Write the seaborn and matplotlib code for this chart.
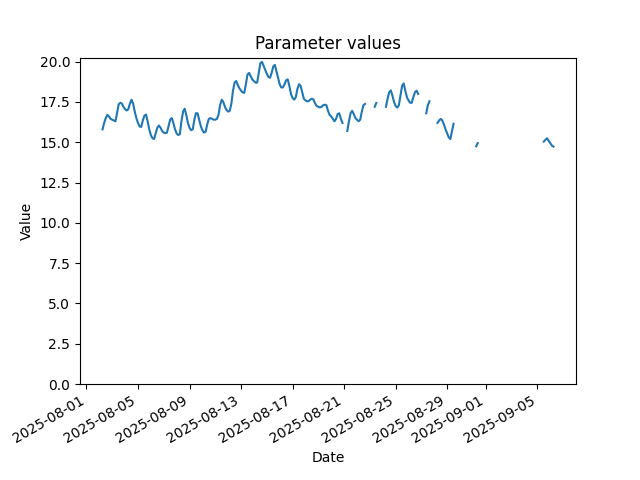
import numpy as np
import pandas as pd
import matplotlib
matplotlib.use("Agg")
import matplotlib.pyplot as plt
import seaborn as sns

nan = np.nan

# --- Data: 3-hourly readings starting 2025-08-02 06:00 (NaN = missing) ---
start_time = "2025-08-02 06:00"
step = "3h"

values = [
    15.8, 16.2, 16.5, 16.7, 16.6, 16.45,                # 08-02 (from 06h)
    16.4, 16.35, 16.3, 16.8, 17.35, 17.45, 17.4, 17.2,  # 08-03
    17.05, 16.97, 17.05, 17.4, 17.64, 17.4, 16.9, 16.5,  # 08-04
    16.2, 15.98, 15.95, 16.35, 16.65, 16.72, 16.3, 15.8,  # 08-05
    15.45, 15.25, 15.2, 15.55, 15.9, 16.04, 15.9, 15.7,  # 08-06
    15.6, 15.56, 15.6, 16.0, 16.4, 16.5, 16.2, 15.8,     # 08-07
    15.55, 15.45, 15.5, 16.3, 16.9, 17.08, 16.7, 16.2,   # 08-08
    15.9, 15.75, 15.8, 16.4, 16.8, 16.8, 16.4, 16.0,     # 08-09
    15.75, 15.6, 15.65, 16.1, 16.45, 16.5, 16.45, 16.4,  # 08-10
    16.4, 16.45, 16.7, 17.3, 17.64, 17.5, 17.2, 17.0,    # 08-11
    16.9, 16.95, 17.4, 18.2, 18.7, 18.8, 18.55, 18.35,   # 08-12
    18.2, 18.1, 18.06, 18.6, 19.2, 19.3, 19.1, 18.9,     # 08-13
    18.8, 18.7, 18.7, 19.3, 19.9, 19.99, 19.75, 19.5,    # 08-14
    19.25, 19.05, 19.0, 19.3, 19.7, 19.8, 19.4, 19.0,    # 08-15
    18.6, 18.4, 18.4, 18.6, 18.85, 18.9, 18.5, 18.0,     # 08-16
    17.75, 17.64, 17.8, 18.3, 18.6, 18.5, 18.1, 17.7,    # 08-17
    17.6, 17.54, 17.55, 17.65, 17.7, 17.65, 17.4, 17.25,  # 08-18
    17.2, 17.16, 17.2, 17.3, 17.33, 17.3, 16.95, 16.7,   # 08-19
    16.6, 16.45, 16.3, 16.45, 16.75, 16.8, 16.45, 16.2,  # 08-20
    nan, nan, 15.7, 16.3, 16.8, 16.95, 16.75, 16.5,      # 08-21
    16.4, 16.3, 16.4, 16.9, 17.3, 17.38, nan, nan,       # 08-22
    nan, nan, nan, 17.2, 17.44, nan, nan, nan,           # 08-23
    nan, nan, 17.2, 17.7, 18.1, 18.22, 17.9, 17.5,       # 08-24
    17.25, 17.15, 17.3, 17.9, 18.5, 18.65, 18.2, 17.8,   # 08-25
    17.6, 17.45, 17.45, 17.8, 18.1, 18.2, 18.0, nan,     # 08-26
    nan, nan, nan, 16.8, 17.3, 17.54, nan, nan,          # 08-27
    nan, nan, 16.2, 16.35, 16.45, 16.35, 16.1, 15.8,     # 08-28
    15.55, 15.3, 15.2, 15.7, 16.15, nan, nan, nan,       # 08-29
    nan, nan, nan, nan, nan, nan, nan, nan,              # 08-30
    nan, nan, 14.75, 14.95, nan, nan, nan, nan,          # 08-31
    nan, nan, nan, nan, nan, nan, nan, nan,              # 09-01
    nan, nan, nan, nan, nan, nan, nan, nan,              # 09-02
    nan, nan, nan, nan, nan, nan, nan, nan,              # 09-03
    nan, nan, nan, nan, nan, nan, nan, nan,              # 09-04
    nan, nan, nan, nan, 15.04, 15.15, 15.25, 15.1,       # 09-05
    14.95, 14.8, 14.73,                                  # 09-06 (to 06h)
]

df = pd.DataFrame({
    "Date": pd.date_range(start=start_time, periods=len(values), freq=step),
    "Value": values,
})

# split into continuous runs so gaps stay open
df["segment"] = df["Value"].isna().cumsum()
df = df.dropna(subset=["Value"])

fig, ax = plt.subplots(figsize=(6.4, 4.8), dpi=100)
sns.lineplot(data=df, x="Date", y="Value", units="segment", estimator=None,
             color="#1f77b4", linewidth=1.5, ax=ax)

ax.set_ylim(bottom=0)
ax.set_title("Parameter values")
ax.set_xlabel("Date")
ax.set_ylabel("Value")
fig.autofmt_xdate()

fig.savefig("out.png", dpi=100)
